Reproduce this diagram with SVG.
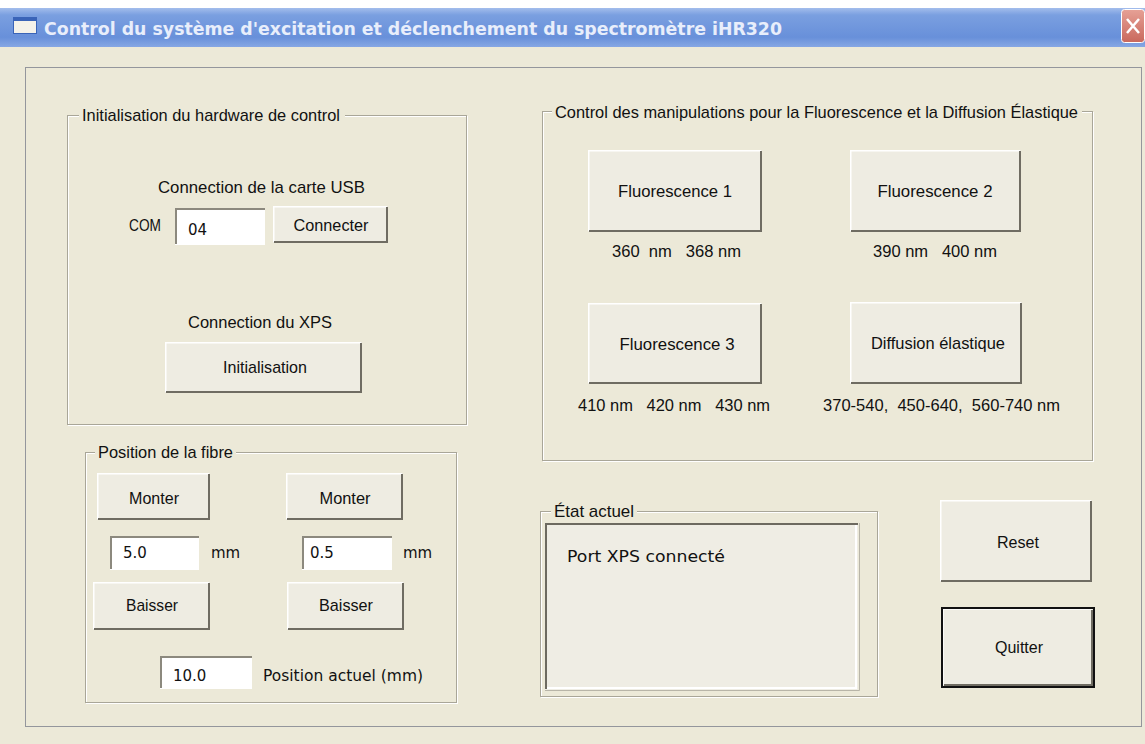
<svg xmlns="http://www.w3.org/2000/svg" width="1145" height="744" viewBox="0 0 1145 744">
<defs>
<linearGradient id="tb" x1="0" y1="0" x2="0" y2="1">
<stop offset="0" stop-color="#a3bdec"/>
<stop offset="0.18" stop-color="#7a9fe0"/>
<stop offset="0.75" stop-color="#6890da"/>
<stop offset="1" stop-color="#86a7e4"/>
</linearGradient>
<linearGradient id="cb" x1="0" y1="0" x2="0" y2="1">
<stop offset="0" stop-color="#e6a196"/>
<stop offset="1" stop-color="#c9685c"/>
</linearGradient>
</defs>
<style>
.t{font-family:"Liberation Sans",Arial,sans-serif;font-size:17px;fill:#111}
.d{font-family:"DejaVu Sans",Verdana,sans-serif;font-size:15px;fill:#111}
.c{text-anchor:middle}
.bf{fill:#eeece2}
.hl{fill:none;stroke:#ffffff;stroke-width:1.5}
.sh{fill:none;stroke:#6f6c62;stroke-width:2}
.gw{fill:none;stroke:#ffffff;stroke-width:1}
.gg{fill:none;stroke:#a9a698;stroke-width:1}
.lb{fill:#ece9d8}
.tb{fill:#ffffff}
.tbs{fill:none;stroke:#8c897e;stroke-width:2}
.pre{white-space:pre}
</style>
<rect x="0" y="0" width="1145" height="744" fill="#ece9d8"/>
<rect x="0" y="0" width="1145" height="8" fill="#ffffff"/>
<g id="titlebar">
<rect x="0" y="8" width="1145" height="39" fill="url(#tb)"/>
<rect x="13.5" y="17.5" width="23" height="16" fill="#f4f2ea" stroke="#3a64b8"/>
<rect x="14" y="18" width="22" height="3" fill="#3a64b8"/>
<text x="44" y="35" font-family="'DejaVu Sans',Verdana,sans-serif" font-weight="bold" font-size="17" fill="#e8eefb" textLength="738" lengthAdjust="spacingAndGlyphs">Control du système d'excitation  et déclenchement du spectromètre iHR320</text>
<rect x="1121.5" y="9.5" width="23" height="33" rx="3" fill="url(#cb)" stroke="#ffffff"/>
<path d="M1127 19 L1139 33 M1139 19 L1127 33" stroke="#ffffff" stroke-width="2.5" fill="none"/>
</g>
<rect id="frame" x="25.5" y="67.5" width="1116" height="659" fill="none" stroke="#3c4260" stroke-width="1" stroke-dasharray="1 1"/>

<g id="grp-init">
<rect x="68.5" y="116.5" width="399" height="309" class="gw"/>
<rect x="67.5" y="115.5" width="399" height="309" class="gg"/>
<rect x="79" y="108" width="266" height="14" class="lb"/>
<text x="82" y="121" class="t" textLength="258" lengthAdjust="spacingAndGlyphs">Initialisation du hardware de control</text>
<text x="158" y="193" class="t" textLength="207" lengthAdjust="spacingAndGlyphs">Connection de la carte USB</text>
<text x="129" y="231" class="t" textLength="32" lengthAdjust="spacingAndGlyphs">COM</text>
<g id="tb-com">
<rect x="175" y="208" width="90" height="37" class="tb"/>
<path d="M176 244 V209 H265" class="tbs"/>
<text x="188" y="235" class="d">04</text>
</g>
<g id="btn-connecter">
<rect x="273" y="206" width="115" height="37" class="bf"/>
<path d="M273.75 242 V206.75 H387" class="hl"/>
<path d="M274 242 H387 V207" class="sh"/>
<text x="331" y="231" class="t c" textLength="75" lengthAdjust="spacingAndGlyphs">Connecter</text>
</g>
<text x="188" y="328" class="t" textLength="144" lengthAdjust="spacingAndGlyphs">Connection du XPS</text>
<g id="btn-init">
<rect x="165" y="342" width="197" height="51" class="bf"/>
<path d="M165.75 392 V342.75 H361" class="hl"/>
<path d="M166 392 H361 V343" class="sh"/>
<text x="265" y="373" class="t c" textLength="84" lengthAdjust="spacingAndGlyphs">Initialisation</text>
</g>
</g>

<g id="grp-position">
<rect x="86.5" y="453.5" width="371" height="250" class="gw"/>
<rect x="85.5" y="452.5" width="371" height="250" class="gg"/>
<rect x="95" y="445" width="141" height="14" class="lb"/>
<text x="98" y="458" class="t" textLength="135" lengthAdjust="spacingAndGlyphs">Position de la fibre</text>
<g id="btn-monter1">
<rect x="97" y="473" width="113" height="47" class="bf"/>
<path d="M97.75 519 V473.75 H209" class="hl"/>
<path d="M98 519 H209 V474" class="sh"/>
<text x="154" y="504" class="t c" textLength="50" lengthAdjust="spacingAndGlyphs">Monter</text>
</g>
<g id="btn-monter2">
<rect x="286" y="473" width="117" height="47" class="bf"/>
<path d="M286.75 519 V473.75 H402" class="hl"/>
<path d="M287 519 H402 V474" class="sh"/>
<text x="345" y="504" class="t c" textLength="51" lengthAdjust="spacingAndGlyphs">Monter</text>
</g>
<g id="tb-step1">
<rect x="110" y="536" width="89" height="34" class="tb"/>
<path d="M111 569 V537 H199" class="tbs"/>
<text x="123" y="558" class="d">5.0</text>
</g>
<text x="211" y="558" class="d">mm</text>
<g id="tb-step2">
<rect x="302" y="536" width="90" height="34" class="tb"/>
<path d="M303 569 V537 H392" class="tbs"/>
<text x="310" y="558" class="d">0.5</text>
</g>
<text x="403" y="558" class="d">mm</text>
<g id="btn-baisser1">
<rect x="93" y="582" width="117" height="48" class="bf"/>
<path d="M93.75 629 V582.75 H209" class="hl"/>
<path d="M94 629 H209 V583" class="sh"/>
<text x="152" y="611" class="t c" textLength="52" lengthAdjust="spacingAndGlyphs">Baisser</text>
</g>
<g id="btn-baisser2">
<rect x="287" y="582" width="117" height="48" class="bf"/>
<path d="M287.75 629 V582.75 H403" class="hl"/>
<path d="M288 629 H403 V583" class="sh"/>
<text x="346" y="611" class="t c" textLength="54" lengthAdjust="spacingAndGlyphs">Baisser</text>
</g>
<g id="tb-pos">
<rect x="160" y="656" width="92" height="33" class="tb"/>
<path d="M161 688 V657 H252" class="tbs"/>
<text x="173" y="681" class="d">10.0</text>
</g>
<text x="263" y="681" class="d" textLength="160" lengthAdjust="spacingAndGlyphs">Position actuel (mm)</text>
</g>

<g id="grp-manip">
<rect x="543.5" y="112.5" width="550" height="349" class="gw"/>
<rect x="542.5" y="111.5" width="550" height="349" class="gg"/>
<rect x="552" y="104" width="530" height="14" class="lb"/>
<text x="555" y="118" class="t" textLength="523" lengthAdjust="spacingAndGlyphs">Control des manipulations pour la Fluorescence et la Diffusion Élastique</text>
<g id="btn-fl1">
<rect x="588" y="150" width="174" height="82" class="bf"/>
<path d="M588.75 231 V150.75 H761" class="hl"/>
<path d="M589 231 H761 V151" class="sh"/>
<text x="675" y="197" class="t c" textLength="114" lengthAdjust="spacingAndGlyphs">Fluorescence 1</text>
</g>
<text x="612" y="257" class="t pre" textLength="129" lengthAdjust="spacingAndGlyphs">360  nm   368 nm</text>
<g id="btn-fl2">
<rect x="850" y="150" width="171" height="82" class="bf"/>
<path d="M850.75 231 V150.75 H1020" class="hl"/>
<path d="M851 231 H1020 V151" class="sh"/>
<text x="935" y="197" class="t c" textLength="115" lengthAdjust="spacingAndGlyphs">Fluorescence 2</text>
</g>
<text x="873" y="257" class="t pre" textLength="124" lengthAdjust="spacingAndGlyphs">390 nm   400 nm</text>
<g id="btn-fl3">
<rect x="588" y="303" width="174" height="81" class="bf"/>
<path d="M588.75 383 V303.75 H761" class="hl"/>
<path d="M589 383 H761 V304" class="sh"/>
<text x="677" y="350" class="t c" textLength="115" lengthAdjust="spacingAndGlyphs">Fluorescence 3</text>
</g>
<text x="578" y="411" class="t pre" textLength="192" lengthAdjust="spacingAndGlyphs">410 nm   420 nm   430 nm</text>
<g id="btn-diff">
<rect x="850" y="302" width="172" height="82" class="bf"/>
<path d="M850.75 383 V302.75 H1021" class="hl"/>
<path d="M851 383 H1021 V303" class="sh"/>
<text x="938" y="349" class="t c" textLength="134" lengthAdjust="spacingAndGlyphs">Diffusion élastique</text>
</g>
<text x="823" y="411" class="t pre" textLength="237" lengthAdjust="spacingAndGlyphs">370-540,  450-640,  560-740 nm</text>
</g>

<g id="grp-etat">
<rect x="541.5" y="512.5" width="337" height="185" class="gw"/>
<rect x="540.5" y="511.5" width="337" height="185" class="gg"/>
<rect x="551" y="504" width="86" height="14" class="lb"/>
<text x="554" y="517" class="t" textLength="80" lengthAdjust="spacingAndGlyphs">État actuel</text>
<g id="etat-box">
<rect x="545" y="523" width="313" height="167" fill="#efede4"/>
<path d="M546 689 V524 H858" fill="none" stroke="#6d6a60" stroke-width="2"/>
<path d="M547 688 H856 V525" fill="none" stroke="#ffffff" stroke-width="2"/>
<path d="M545 690.5 H859.5 V523" fill="none" stroke="#b8b5a8" stroke-width="1"/>
<text x="567" y="562" class="d" textLength="158" lengthAdjust="spacingAndGlyphs">Port XPS connecté</text>
</g>
</g>

<g id="btn-reset">
<rect x="940" y="500" width="152" height="82" class="bf"/>
<path d="M940.75 581 V500.75 H1091" class="hl"/>
<path d="M941 581 H1091 V501" class="sh"/>
<text x="1018" y="548" class="t c" textLength="42" lengthAdjust="spacingAndGlyphs">Reset</text>
</g>
<g id="btn-quitter">
<rect x="941" y="607" width="154" height="81" class="bf"/>
<path d="M943 685 V609 H1092" class="hl"/>
<path d="M944 685 H1092 V610" class="sh"/>
<rect x="942" y="608" width="152" height="79" fill="none" stroke="#111" stroke-width="2"/>
<text x="1019" y="653" class="t c" textLength="48" lengthAdjust="spacingAndGlyphs">Quitter</text>
</g>
<g id="connectors"/>
</svg>
